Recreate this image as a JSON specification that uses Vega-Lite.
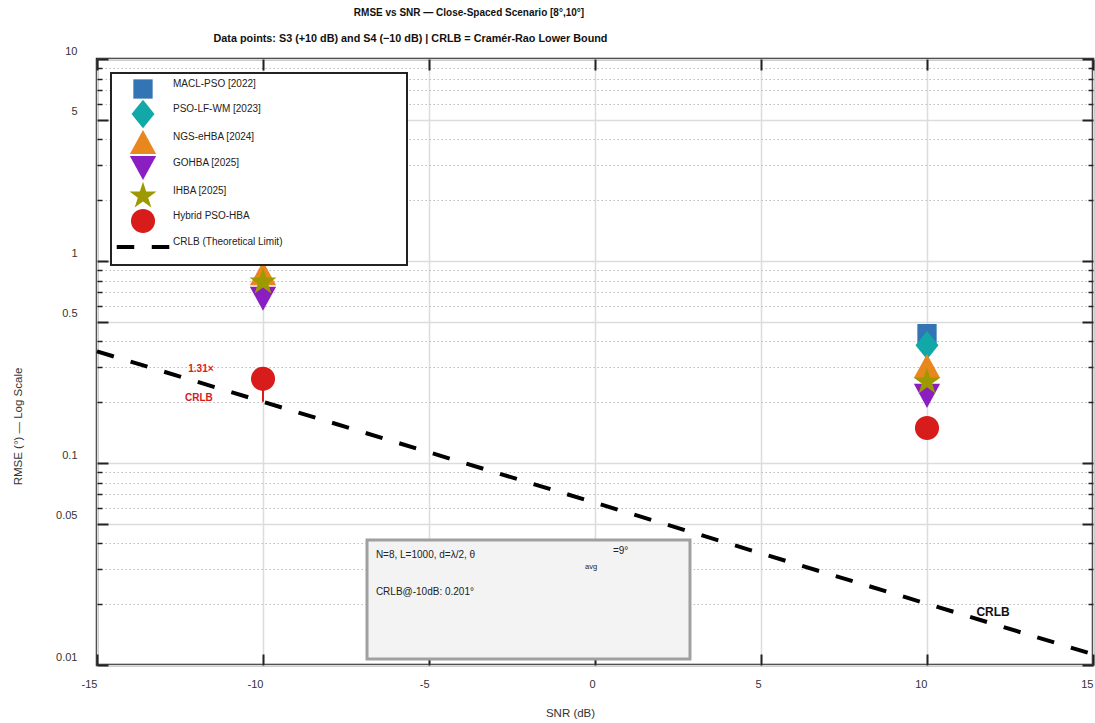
{
  "$schema": "https://vega.github.io/schema/vega-lite/v6.json",
  "width": 996,
  "height": 606,
  "autosize": {"type": "none"},
  "padding": {"left": 97, "top": 59, "right": 2, "bottom": 58},
  "background": "white",
  "title": {
    "text": "RMSE vs SNR — Close-Spaced Scenario [8°,10°]",
    "anchor": "middle",
    "dx": -126,
    "offset": 14,
    "fontSize": 10,
    "fontWeight": "bold",
    "font": "Liberation Sans",
    "color": "#111"
  },
  "config": {
    "font": "Liberation Sans",
    "view": {"stroke": "#222", "strokeWidth": 2.5},
    "axis": {
      "domain": false,
      "labelFont": "Liberation Sans",
      "labelFontSize": 11,
      "labelColor": "#333",
      "tickColor": "#222",
      "gridColor": "#dcdcdc",
      "gridWidth": 1.5,
      "titleFont": "Liberation Sans",
      "titleFontWeight": "normal",
      "titleColor": "#333",
      "titleFontSize": 11.5,
      "labelFlush": false,
      "labelOverlap": false
    },
    "legend": {"strokeWidth": 2}
  },
  "datasets": {
    "points": [
      {"snr": -10, "rmse": 1.3, "method": "MACL-PSO [2022]"},
      {"snr": -10, "rmse": 1.2, "method": "PSO-LF-WM [2023]"},
      {"snr": -10, "rmse": 0.87, "method": "NGS-eHBA [2024]"},
      {"snr": -10, "rmse": 0.65, "method": "GOHBA [2025]"},
      {"snr": -10, "rmse": 0.787, "method": "IHBA [2025]"},
      {"snr": -10, "rmse": 0.261, "method": "Hybrid PSO-HBA"},
      {"snr": 10, "rmse": 0.437, "method": "MACL-PSO [2022]"},
      {"snr": 10, "rmse": 0.383, "method": "PSO-LF-WM [2023]"},
      {"snr": 10, "rmse": 0.302, "method": "NGS-eHBA [2024]"},
      {"snr": 10, "rmse": 0.215, "method": "GOHBA [2025]"},
      {"snr": 10, "rmse": 0.252, "method": "IHBA [2025]"},
      {"snr": 10, "rmse": 0.149, "method": "Hybrid PSO-HBA"}
    ],
    "crlb": [
      {"snr": -15, "rmse": 0.357},
      {"snr": -10, "rmse": 0.201},
      {"snr": -5, "rmse": 0.113},
      {"snr": 0, "rmse": 0.0636},
      {"snr": 5, "rmse": 0.0357},
      {"snr": 10, "rmse": 0.0201},
      {"snr": 15, "rmse": 0.0113}
    ],
    "link": [{"snr": -10, "lo": 0.201, "hi": 0.263}],
    "ratio": [
      {"snr": -11.87, "rmse": 0.292, "label": "1.31×"},
      {"snr": -11.93, "rmse": 0.21, "label": "CRLB"}
    ],
    "lineLabel": [{"snr": 11.99, "rmse": 0.0183, "label": "CRLB"}],
    "box": [{"x1": -6.867, "x2": 2.861, "y1": 0.0107, "y2": 0.0416}],
    "boxText": [
      {"snr": -6.6, "rmse": 0.035, "label": "N=8, L=1000, d=λ/2, θ"},
      {"snr": 0.54, "rmse": 0.0367, "label": "=9°"},
      {"snr": -6.6, "rmse": 0.023, "label": "CRLB@-10dB: 0.201°"}
    ],
    "boxSub": [{"snr": -0.3, "rmse": 0.0306, "label": "avg"}]
  },
  "layer": [
    {
      "data": {"name": "link"},
      "mark": {"type": "rule", "color": "#d81b1b", "strokeWidth": 2},
      "encoding": {
        "x": {
          "field": "snr", "type": "quantitative",
          "scale": {"domain": [-15, 15], "nice": false, "zero": false},
          "axis": {
            "orient": "bottom",
            "values": [-15, -10, -5, 0, 5, 10, 15],
            "labelExpr": "'' + datum.value",
            "labelAlign": "right",
            "labelBaseline": "top",
            "labelPadding": 24,
            "tickSize": -11,
            "tickWidth": 2,
            "grid": true,
            "title": "SNR (dB)",
            "titleX": 473,
            "titleY": 48,
            "titleAlign": "center",
            "titleBaseline": "middle"
          }
        },
        "y": {
          "field": "lo", "type": "quantitative",
          "scale": {"type": "log", "domain": [0.01, 10], "nice": false},
          "axis": {
            "orient": "left",
            "values": [0.01, 0.05, 0.1, 0.5, 1, 5, 10],
            "labelExpr": "'' + datum.value",
            "labelAlign": "right",
            "labelPadding": 31,
            "labelOffset": -8,
            "tickSize": -11,
            "tickWidth": 2,
            "grid": true,
            "title": "RMSE (°) — Log Scale",
            "titleX": -79,
            "titleY": 367,
            "titleAngle": -90,
            "titleAlign": "center",
            "titleBaseline": "middle"
          }
        },
        "y2": {"field": "hi"}
      }
    },
    {
      "data": {"name": "crlb"},
      "mark": {"type": "line", "color": "black", "strokeWidth": 4, "strokeDash": [17.6, 17.5]},
      "encoding": {
        "x": {
          "field": "snr", "type": "quantitative",
          "scale": {"domain": [-15, 15], "nice": false, "zero": false},
          "axis": {
            "orient": "top",
            "values": [-15, -10, -5, 0, 5, 10, 15],
            "labels": false,
            "tickSize": -11,
            "tickWidth": 2,
            "grid": false,
            "title": "Data points: S3 (+10 dB) and S4 (−10 dB) | CRLB = Cramér-Rao Lower Bound",
            "titleX": 313,
            "titleY": -21,
            "titleAlign": "center",
            "titleBaseline": "middle",
            "titleFontWeight": "bold",
            "titleFontSize": 10.8,
            "titleColor": "#111"
          }
        },
        "y": {
          "field": "rmse", "type": "quantitative",
          "scale": {"type": "log", "domain": [0.01, 10], "nice": false},
          "axis": {
            "orient": "left",
            "values": [0.02, 0.03, 0.04, 0.06, 0.07, 0.08, 0.09, 0.2, 0.3, 0.4, 0.6, 0.7, 0.8, 0.9, 2, 3, 4, 6, 7, 8, 9],
            "labels": false,
            "tickSize": -5,
            "tickWidth": 1.5,
            "grid": true,
            "gridColor": "#bdbdbd",
            "gridWidth": 1,
            "gridDash": [1.5, 2.5],
            "title": null
          }
        }
      }
    },
    {
      "data": {"name": "points"},
      "mark": {"type": "point", "filled": true, "opacity": 1, "strokeWidth": 0},
      "encoding": {
        "x": {"field": "snr", "type": "quantitative", "axis": null},
        "y": {
          "field": "rmse", "type": "quantitative",
          "scale": {"type": "log", "domain": [0.01, 10], "nice": false},
          "axis": {
            "orient": "right",
            "values": [0.01, 0.05, 0.1, 0.5, 1, 5, 10],
            "labels": false,
            "tickSize": -11,
            "tickWidth": 2,
            "grid": false,
            "title": null
          }
        },
        "color": {
          "field": "method", "type": "nominal",
          "scale": {
            "domain": ["MACL-PSO [2022]", "PSO-LF-WM [2023]", "NGS-eHBA [2024]", "GOHBA [2025]", "IHBA [2025]", "Hybrid PSO-HBA", "CRLB (Theoretical Limit)"],
            "range": ["#3374b5", "#13a8a8", "#e8871e", "#8a1ec2", "#9c9a00", "#d81b1b", "#000000"]
          },
          "legend": {
            "title": null,
            "orient": "none",
            "legendX": 14,
            "legendY": 14,
            "fillColor": "white",
            "strokeColor": "#222",
            "padding": 5,
            "symbolOffset": 16,
            "labelOffset": 19,
            "rowPadding": 0,
            "symbolSize": 480,
            "symbolStrokeWidth": 0,
            "symbolOpacity": 1,
            "labelFontSize": 10,
            "labelFont": "Liberation Sans",
            "labelColor": "#222",
            "labelBaseline": "bottom",
            "labelLimit": 400,
            "labelExpr": "datum.label + '\u00a0\u00a0\u00a0\u00a0\u00a0\u00a0\u00a0\u00a0\u00a0\u00a0\u00a0\u00a0\u00a0\u00a0\u00a0\u00a0\u00a0\u00a0\u00a0\u00a0\u00a0\u00a0\u00a0\u00a0\u00a0\u00a0\u00a0\u00a0\u00a0\u00a0\u00a0\u00a0\u00a0\u00a0\u00a0\u00a0\u00a0\u00a0\u00a0\u00a0\u00a0\u00a0\u00a0\u200b'"
          }
        },
        "shape": {
          "field": "method", "type": "nominal",
          "scale": {
            "domain": ["MACL-PSO [2022]", "PSO-LF-WM [2023]", "NGS-eHBA [2024]", "GOHBA [2025]", "IHBA [2025]", "Hybrid PSO-HBA", "CRLB (Theoretical Limit)"],
            "range": [
              "M-0.88,-0.88H0.88V0.88H-0.88Z",
              "M0,-1.3L1.05,0L0,1.3L-1.05,0Z",
              "M0,-1.1L1.2,1.1L-1.2,1.1Z",
              "M0,1.1L1.2,-1.1L-1.2,-1.1Z",
              "M0,-1.3L0.292,-0.402L1.236,-0.402L0.472,0.153L0.764,1.052L0,0.497L-0.764,1.052L-0.472,0.153L-1.236,-0.402L-0.292,-0.402Z",
              "M1.1,0A1.1,1.1,0,1,1,-1.1,0A1.1,1.1,0,1,1,1.1,0Z",
              "M-2.4,-0.18H-0.8V0.18H-2.4Z M0.8,-0.18H2.4V0.18H0.8Z M0,-1.15V1.15"
            ]
          }
        },
        "size": {
          "field": "method", "type": "nominal",
          "scale": {
            "domain": ["MACL-PSO [2022]", "PSO-LF-WM [2023]", "NGS-eHBA [2024]", "GOHBA [2025]", "IHBA [2025]", "Hybrid PSO-HBA"],
            "range": [480, 480, 420, 420, 520, 650]
          },
          "legend": null
        }
      }
    },
    {
      "data": {"name": "ratio"},
      "mark": {"type": "text", "color": "#d81b1b", "fontWeight": "bold", "fontSize": 10, "align": "center", "baseline": "middle"},
      "encoding": {
        "x": {"field": "snr", "type": "quantitative", "axis": null},
        "y": {
          "field": "rmse", "type": "quantitative",
          "scale": {"type": "log", "domain": [0.01, 10], "nice": false},
          "axis": {
            "orient": "right",
            "values": [0.02, 0.03, 0.04, 0.06, 0.07, 0.08, 0.09, 0.2, 0.3, 0.4, 0.6, 0.7, 0.8, 0.9, 2, 3, 4, 6, 7, 8, 9],
            "labels": false,
            "tickSize": -5,
            "tickWidth": 1.5,
            "grid": false,
            "title": null
          }
        },
        "text": {"field": "label"}
      }
    },
    {
      "data": {"name": "lineLabel"},
      "mark": {"type": "text", "color": "#111", "fontWeight": "bold", "fontSize": 12, "align": "center", "baseline": "middle"},
      "encoding": {
        "x": {"field": "snr", "type": "quantitative", "axis": null},
        "y": {"field": "rmse", "type": "quantitative", "axis": null},
        "text": {"field": "label"}
      }
    },
    {
      "data": {"name": "box"},
      "mark": {"type": "rect", "fill": "#f3f3f3", "stroke": "#a0a0a0", "strokeWidth": 3},
      "encoding": {
        "x": {"field": "x1", "type": "quantitative", "axis": null},
        "x2": {"field": "x2"},
        "y": {"field": "y1", "type": "quantitative", "axis": null},
        "y2": {"field": "y2"}
      }
    },
    {
      "data": {"name": "boxText"},
      "mark": {"type": "text", "color": "#222", "fontSize": 10, "align": "left", "baseline": "middle"},
      "encoding": {
        "x": {"field": "snr", "type": "quantitative", "axis": null},
        "y": {"field": "rmse", "type": "quantitative", "axis": null},
        "text": {"field": "label"}
      }
    },
    {
      "data": {"name": "boxSub"},
      "mark": {"type": "text", "color": "#222", "fontSize": 7.5, "align": "left", "baseline": "middle"},
      "encoding": {
        "x": {"field": "snr", "type": "quantitative", "axis": null},
        "y": {"field": "rmse", "type": "quantitative", "axis": null},
        "text": {"field": "label"}
      }
    }
  ],
  "resolve": {"axis": {"x": "independent", "y": "independent"}}
}
